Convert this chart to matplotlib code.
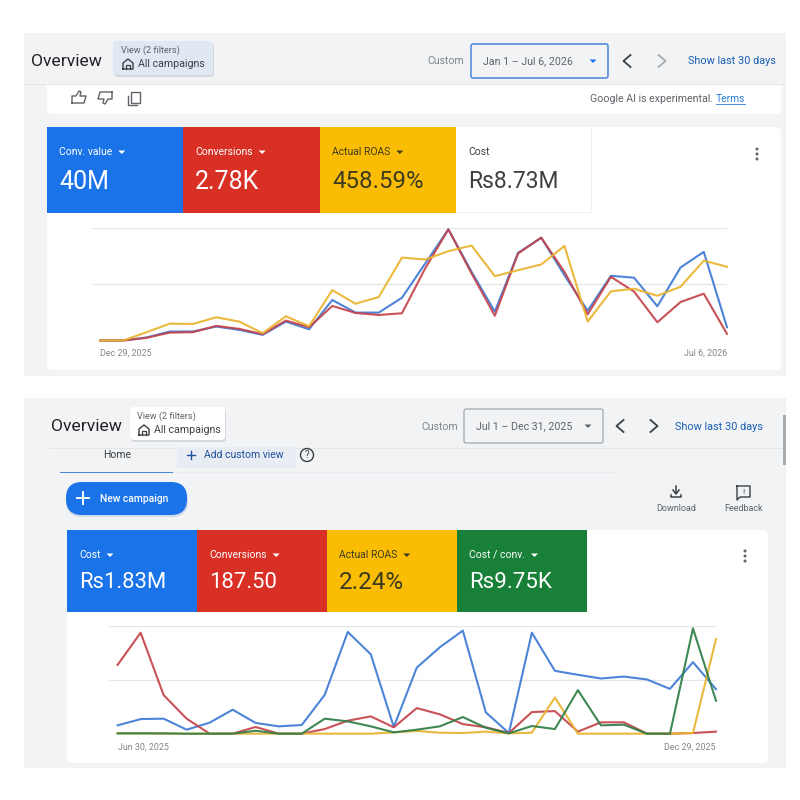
#!/usr/bin/env python3
import matplotlib
matplotlib.use('Agg')
import matplotlib.pyplot as plt
from matplotlib.patches import Rectangle, FancyBboxPatch, Polygon, Circle

plt.rcParams['font.family'] = ['Roboto', 'DejaVu Sans']

# top chart, scaled so that the top gridline is 100
top_blue = [0, 0, 2.7, 8, 8, 12.4, 9.4, 5, 16.8, 10, 36, 24.8, 24.8, 38, 68.4, 98.8,
            61, 25.7, 77.9, 91.4, 58, 26.5, 57.5, 55.8, 30.4, 64.9, 78.8, 11.8]
top_red = [0, 0, 2.4, 7, 7.4, 13, 10.3, 5.6, 17.7, 11.8, 30.7, 24.5, 22.7, 24.2, 64, 98.8,
           59.6, 22, 77.3, 91.4, 61, 23.3, 56.6, 43.4, 16.2, 34.2, 41.6, 5.9]
top_yellow = [0, 0, 7.4, 15, 14.7, 20.6, 16.8, 6.5, 21.5, 12.7, 44.8, 32.7, 38.6, 73.7, 72, 79.4,
              84.4, 57.2, 62.5, 67.6, 84, 16.8, 43.7, 46, 39.8, 47.8, 71, 65.5]

# bottom chart
bot_blue = [8, 13.8, 14.2, 4, 10.5, 22.5, 10.2, 7.1, 8.3, 36.3, 94.5, 73.8, 6.5, 61.5, 80.3, 95.7,
            20, 0.9, 93.8, 58.5, 54.8, 51.4, 53.2, 50.5, 41.8, 66.5, 41.5]
bot_red = [64, 93.8, 36, 14.2, 0.3, 0.3, 6.5, 0.3, 0.3, 4.6, 12.3, 16.3, 6.2, 24, 18.2, 9.2,
           6.2, 0.9, 20.3, 21.2, 2.2, 10.8, 10.8, 0.3, 0.3, 0.9, 2.2]
bot_yellow = [0.6, 0.6, 0.3, 0.3, 0.3, 0.3, 0.3, 0.3, 0.3, 0.3, 0.3, 0.3, 1.5, 2.8, 1.2, 0.9,
              2.2, 0.6, 1.2, 33.8, 0.3, 0.3, 0.3, 0.3, 0.3, 0.9, 88]
bot_green = [0.6, 0.6, 0.6, 0.3, 0.3, 0.3, 3, 0.3, 0.3, 14.2, 11.7, 7.1, 1.5, 4, 7.1, 15.7,
             5.8, 0.6, 7.4, 4.6, 40.6, 8, 8.6, 0.3, 0.3, 97.8, 30.8]

top_tiles = [('Conv. value', '40M'), ('Conversions', '2.78K'), ('Actual ROAS', '458.59%'), ('Cost', 'Rs8.73M')]
bot_tiles = [('Cost', 'Rs1.83M'), ('Conversions', '187.50'), ('Actual ROAS', '2.24%'), ('Cost / conv.', 'Rs9.75K')]
top_dates = ['Dec 29, 2025', 'Jul 6, 2026']
bot_dates = ['Jun 30, 2025', 'Dec 29, 2025']

BG = '#f1f3f4'
BLUE = '#1a73e8'
RED = '#d93025'
YELLOW = '#fbbc04'
GREEN = '#188038'
LINE_COLORS = {'blue': '#3f7ad4', 'red': '#c4434a', 'yellow': '#e9b32c', 'green': '#2f7d47'}

fig = plt.figure(figsize=(8, 8), dpi=100, facecolor='white')
bg = fig.add_axes([0, 0, 1, 1])
bg.set_xlim(0, 800)
bg.set_ylim(800, 0)
bg.axis('off')


def rect(x0, y0, x1, y1, color, z=1):
    bg.add_patch(Rectangle((x0, y0), x1 - x0, y1 - y0, fc=color, ec='none', zorder=z))


def rbox(x0, y0, x1, y1, fc, ec='none', r=4, lw=1, z=2):
    bg.add_patch(FancyBboxPatch((x0 + r, y0 + r), x1 - x0 - 2 * r, y1 - y0 - 2 * r,
                                boxstyle=f'round,pad={r},rounding_size={r}',
                                fc=fc, ec=ec, lw=lw, zorder=z))


def txt(x, y, s, size, color='#3c4043', ha='left', weight='normal'):
    return bg.text(x, y + 0.5, s, fontsize=size, color=color, ha=ha, va='center', weight=weight, zorder=6)


def caret(x, y, color, w=3.5):
    bg.add_patch(Polygon([(x - w, y - 1.5), (x + w, y - 1.5), (x, y + 2)], fc=color, ec='none', zorder=6))


def chevron(x, y, color, left=True):
    d = -3.5 if left else 3.5
    bg.plot([x - d, x + d, x - d], [y - 6, y, y + 6], color=color, lw=1.3, zorder=6)


def home_icon(x, y):
    bg.plot([x - 5, x - 5, x, x + 5, x + 5, x - 5], [y + 5, y - 1, y - 5, y - 1, y + 5, y + 5],
            color='#3c4043', lw=1, zorder=6)
    bg.plot([x - 2, x - 2, x + 2, x + 2], [y + 5, y + 1, y + 1, y + 5], color='#3c4043', lw=0.9, zorder=6)


def dots(x, y):
    for dy in (-5, 0, 5):
        bg.add_patch(Circle((x, y + dy), 1.5, fc='#5f6368', ec='none', zorder=6))


def view_box(x0, y0, x1, y1, fc, tx):
    rbox(x0 + 1, y0 + 2, x1 + 1, y1 + 2, '#d5d8dc', z=2)
    rbox(x0, y0, x1, y1, fc, z=3)
    txt(tx, y0 + 9, 'View (2 filters)', 6.6, '#5f6368')
    home_icon(tx + 7, y0 + 23)
    txt(tx + 17, y0 + 22.5, 'All campaigns', 7.7, '#3c4043')


def tiles(xs, y0, y1, items, colors, dark, sizes):
    for i, (label, value) in enumerate(items):
        rect(xs[i], y0, xs[i + 1], y1, colors[i], 3)
        fg = dark[i]
        t = txt(xs[i] + 12, y0 + 24.5, label, 7.5, fg)
        if colors[i] != 'white':
            w = t.get_window_extent(fig.canvas.get_renderer()).width
            caret(xs[i] + 12 + w + 9.5, y0 + 25, fg)
        txt(xs[i] + 12, y0 + (y1 - y0) * 0.63, value, sizes[i], fg)


def chart(pos, series, dates, step):
    x0, y0, x1, y1 = pos
    ax = fig.add_axes([x0 / 800, 1 - y1 / 800, (x1 - x0) / 800, (y1 - y0) / 800])
    ax.patch.set_alpha(0)
    n = len(series[0][1])
    for name, vals in series:
        ax.plot(range(n), vals, color=LINE_COLORS[name], lw=1.5, clip_on=False, zorder=3, alpha=0.92)
    ax.set_xlim(-(8.6 / step), n - 1)
    ax.set_ylim(0, 100)
    ax.set_yticks([0, 50, 100])
    ax.set_yticklabels([])
    ax.grid(axis='y', color='#e4e6e8', lw=0.9)
    ax.set_axisbelow(True)
    ax.set_xticks([0, n - 1])
    ax.set_xticklabels(dates, fontsize=6.4, color='#80868b')
    ax.get_xticklabels()[0].set_ha('left')
    ax.get_xticklabels()[1].set_ha('right')
    ax.tick_params(length=0, pad=6)
    for s in ax.spines.values():
        s.set_visible(False)


# ---- top screenshot ----
rect(24, 33, 786, 376, BG)
rect(24, 84, 786, 85, '#e2e4e6', 2)
rbox(47, 85, 781, 114, 'white', r=3)
rect(47, 85, 781, 90, 'white', 2)
txt(31, 61, 'Overview', 12.6, '#202124')
view_box(113, 41, 213, 75, '#dfe8f3', 121)
txt(464, 61, 'Custom', 7.6, '#80868b', ha='right')
rbox(471, 44, 608, 78, '#f1f3f4', ec='#4a86d8', r=2, lw=1.1)
txt(483, 61, 'Jan 1 – Jul 6, 2026', 7.7, '#5f6368')
caret(593, 61, BLUE)
chevron(627, 61, '#3c4043')
chevron(662, 61, '#a8abae', left=False)
txt(776, 61, 'Show last 30 days', 7.8, '#1a5fb4', ha='right')
txt(745, 98, 'Terms', 7.4, '#2a7ad8', ha='right')
bg.plot([716, 745], [103.5, 103.5], color='#2a7ad8', lw=0.6, zorder=6)
txt(713, 98, 'Google AI is experimental.', 7.7, '#5f6368', ha='right')
# feedback icons
bg.plot([72, 72, 76, 79, 81, 80, 86, 84, 72], [103, 96, 96, 91, 92, 96, 96, 103, 103], color='#5f6368', lw=1, zorder=6)
bg.plot([112, 112, 108, 105, 103, 104, 98, 100, 112], [92, 99, 99, 104, 103, 99, 99, 92, 92], color='#5f6368', lw=1, zorder=6)
bg.add_patch(Rectangle((131, 92), 9, 11, fc='none', ec='#5f6368', lw=1, zorder=6))
bg.plot([128, 128, 137], [96, 105, 105], color='#5f6368', lw=1, zorder=6)

rbox(47, 127, 781, 370, 'white', r=5)
tiles([47, 183, 320, 456, 592], 127, 213, top_tiles, [BLUE, RED, YELLOW, 'white'],
      ['#ffffff', '#ffffff', '#3c3a20', '#3c4043'], [18, 18, 17.3, 16.5])
rect(591, 127, 592, 213, '#f1f1f1', 3)
rect(456, 212, 592, 213, '#f1f1f1', 3)
dots(757, 154)
chart((91.5, 228, 727, 340.5), [('blue', top_blue), ('red', top_red), ('yellow', top_yellow)], top_dates, 23.2)

# ---- bottom screenshot ----
rect(24, 398, 786, 768, BG)
rect(50, 448, 786, 449, '#e4e6e8', 2)
rect(60, 472, 615, 473, '#e8eaed', 2)
rect(60, 471.5, 173, 473, '#4a86d8', 3)
txt(51, 426, 'Overview', 12.6, '#202124')
view_box(130, 407, 225, 440, 'white', 137)
txt(117, 455, 'Home', 7.5, '#3c4043', ha='center')
rect(177, 447, 296, 468, '#e8ecf3', 2)
txt(204, 455, 'Add custom view', 7.5, '#1f4f9c')
bg.plot([187, 195], [455, 455], color='#1f4f9c', lw=1, zorder=6)
bg.plot([191, 191], [451, 459], color='#1f4f9c', lw=1, zorder=6)
bg.add_patch(Circle((307, 455), 6.5, fc='none', ec='#3c4043', lw=1, zorder=6))
txt(307, 455, '?', 7, '#3c4043', ha='center')
rbox(66, 484, 188, 517, '#cfd9e8', r=16)
rbox(66, 482, 187, 515, BLUE, r=16, z=3)
bg.plot([77, 89], [498, 498], color='white', lw=1.4, zorder=6)
bg.plot([83, 83], [492, 504], color='white', lw=1.4, zorder=6)
txt(100, 498, 'New campaign', 7.4, 'white', weight='medium')

txt(458, 426, 'Custom', 7.6, '#80868b', ha='right')
rbox(464, 409, 603, 443, '#f1f3f4', ec='#9aa0a6', r=2, lw=0.8)
txt(476, 426, 'Jul 1 – Dec 31, 2025', 7.7, '#5f6368')
caret(588, 426, '#5f6368')
chevron(620, 426, '#3c4043')
chevron(654, 426, '#3c4043', left=False)
txt(763, 426, 'Show last 30 days', 7.8, '#1a5fb4', ha='right')
rect(783, 415, 786, 465, '#a8abae', 3)

# download and feedback icons
bg.plot([676, 676], [486, 493], color='#3c4043', lw=1.1, zorder=6)
bg.plot([673, 676, 679], [490, 494, 490], color='#3c4043', lw=1.1, zorder=6)
bg.plot([671, 671, 681, 681], [495, 497, 497, 495], color='#3c4043', lw=1.1, zorder=6)
txt(676, 508, 'Download', 6.5, '#5f6368', ha='center')
bg.plot([737, 750, 750, 740, 737, 737], [486, 486, 497, 497, 500, 486], color='#3c4043', lw=1, zorder=6)
txt(743.5, 491, '!', 6, '#3c4043', ha='center')
txt(743.5, 508, 'Feedback', 6.5, '#5f6368', ha='center')

rbox(67, 530, 768, 763, 'white', r=5)
tiles([67, 197, 327, 457, 587], 530, 612, bot_tiles, [BLUE, RED, YELLOW, GREEN],
      ['#ffffff', '#ffffff', '#3c3a20', '#ffffff'], [15.8, 15.8, 17.5, 16])
dots(745, 556)
chart((109, 626, 716, 734), [('blue', bot_blue), ('red', bot_red), ('yellow', bot_yellow), ('green', bot_green)],
      bot_dates, 23)

fig.savefig('out.png', dpi=100, facecolor='white')
